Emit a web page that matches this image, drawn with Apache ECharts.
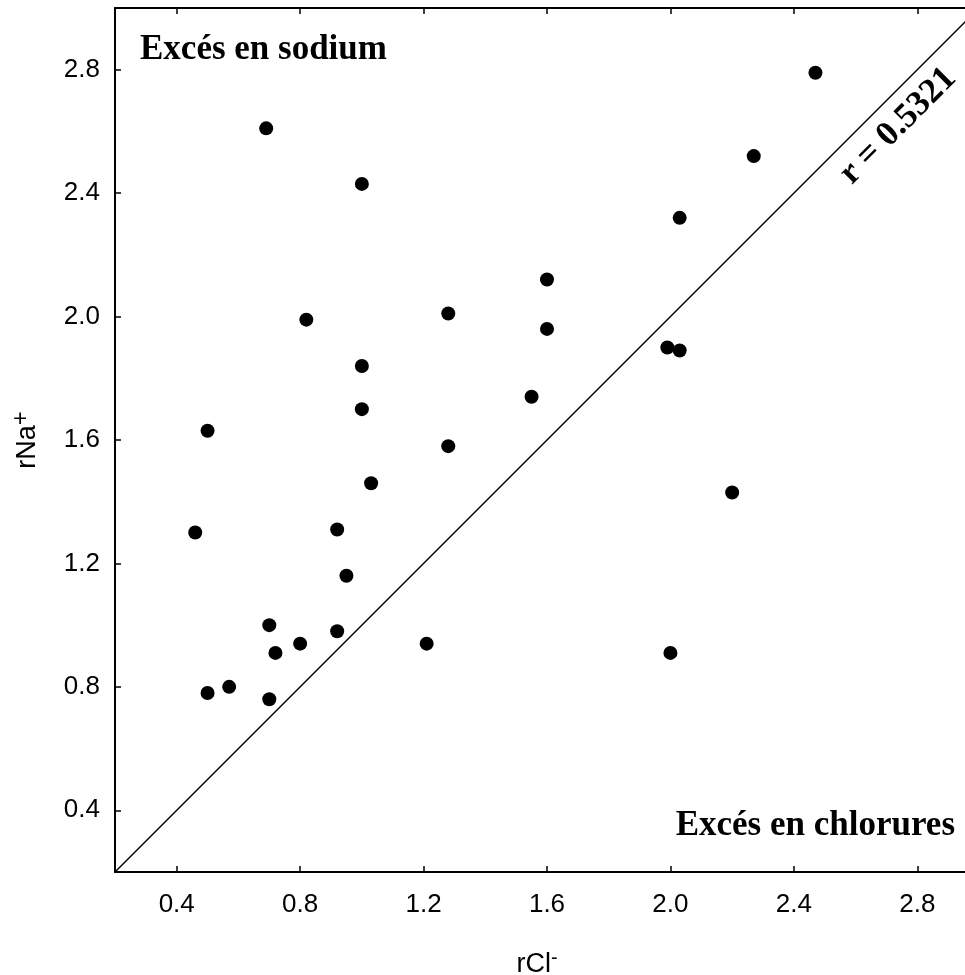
<!DOCTYPE html>
<html>
<head>
<meta charset="utf-8">
<script src="https://cdn.jsdelivr.net/npm/echarts@6/dist/echarts.min.js"></script>
<style>
  html, body { margin: 0; padding: 0; background: #fff; }
  #chart-container { width: 965px; height: 975px; }
</style>
</head>
<body>
<div id="chart-container"></div>
<script>
// rCl- values (x) and rNa+ values (y), one pair per sample
var rCl = [0.69, 1.00, 0.82, 1.28, 1.00, 1.00, 0.50, 1.28, 1.03, 0.46,
           0.92, 0.95, 0.70, 0.80, 0.72, 0.92, 1.21, 0.50, 0.57, 0.70,
           1.60, 1.60, 1.55, 1.99, 2.03, 2.00, 2.47, 2.27, 2.03, 2.20];
var rNa = [2.61, 2.43, 1.99, 2.01, 1.84, 1.70, 1.63, 1.58, 1.46, 1.30,
           1.31, 1.16, 1.00, 0.94, 0.91, 0.98, 0.94, 0.78, 0.80, 0.76,
           2.12, 1.96, 1.74, 1.90, 1.89, 0.91, 2.79, 2.52, 2.32, 1.43];
// reference line y = x
var diagonal = [[0.2, 0.2], [3.0, 3.0]];
var tickValues = [0.4, 0.8, 1.2, 1.6, 2.0, 2.4, 2.8];

var points = rCl.map(function (x, i) { return [x, rNa[i]]; });

var dom = document.getElementById('chart-container');
var myChart = echarts.init(dom, null, { renderer: 'canvas' });

var labelFont = 'Liberation Sans';
var serifFont = 'Liberation Serif';

function axisBase(pos, showLabel) {
  return {
    type: 'value',
    position: pos,
    min: 0.2,
    max: 3.0,
    axisLine: { show: true, onZero: false, lineStyle: { color: '#000', width: 2 } },
    axisTick: { show: true, inside: true, length: 6, customValues: tickValues, lineStyle: { color: '#000', width: 1.5 } },
    axisLabel: {
      show: showLabel,
      customValues: tickValues,
      formatter: function (v) { return v.toFixed(1); },
      color: '#000',
      fontFamily: labelFont,
      fontSize: 26
    },
    splitLine: { show: false }
  };
}

var xBottom = axisBase('bottom', true);
xBottom.axisLabel.margin = 20;
xBottom.name = '{b|rCl}{s|-}';
xBottom.nameLocation = 'middle';
xBottom.nameGap = 76;
xBottom.nameTextStyle = {
  padding: [0, 20, 0, 0],
  rich: {
    b: { fontFamily: labelFont, fontSize: 27, color: '#000' },
    s: { fontFamily: labelFont, fontSize: 20, color: '#000', padding: [0, 0, 14, 0] }
  }
};
var xTop = axisBase('top', false);

var yLeft = axisBase('left', true);
yLeft.axisLabel.margin = 15;
yLeft.name = '{b|rNa}{s|+}';
yLeft.nameLocation = 'middle';
yLeft.nameGap = 68;
yLeft.nameRotate = 90;
yLeft.nameTextStyle = {
  rich: {
    b: { fontFamily: labelFont, fontSize: 27, color: '#000' },
    s: { fontFamily: labelFont, fontSize: 24, color: '#000', padding: [0, 0, 14, 0] }
  }
};
var yRight = axisBase('right', false);

var option = {
  animation: false,
  backgroundColor: '#fff',
  grid: { left: 115, top: 8, width: 864, height: 864, containLabel: false, outerBoundsMode: 'none' },
  xAxis: [xBottom, xTop],
  yAxis: [yLeft, yRight],
  graphic: [
    {
      type: 'text', x: 140, y: 50,
      style: { text: 'Excés en sodium', fill: '#000', font: 'bold 35px "' + serifFont + '"', textAlign: 'left', textVerticalAlign: 'middle' }
    },
    {
      type: 'text', x: 955, y: 826,
      style: { text: 'Excés en chlorures', fill: '#000', font: 'bold 35px "' + serifFont + '"', textAlign: 'right', textVerticalAlign: 'middle' }
    },
    {
      type: 'text', x: 898, y: 126, rotation: Math.PI / 4,
      style: { text: 'r = 0.5321', fill: '#000', font: 'bold 35px "' + serifFont + '"', textAlign: 'center', textVerticalAlign: 'middle' }
    }
  ],
  series: [
    {
      type: 'line',
      data: diagonal,
      symbol: 'none',
      lineStyle: { color: '#000', width: 1.5 },
      silent: true,
      z: 1
    },
    {
      type: 'scatter',
      data: points,
      symbol: 'circle',
      symbolSize: 14,
      itemStyle: { color: '#000', opacity: 1 },
      z: 3
    }
  ]
};

if (option && typeof option === 'object') {
  myChart.setOption(option);
}

window.addEventListener('resize', myChart.resize);
</script>
</body>
</html>
